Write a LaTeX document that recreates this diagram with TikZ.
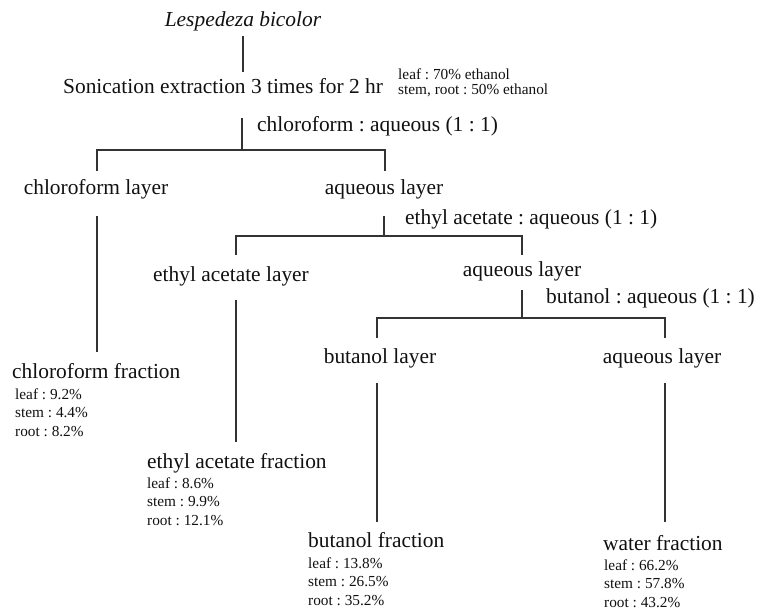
\documentclass[tikz,border=0pt]{standalone}
\usepackage{fontspec}
\setmainfont{Liberation Serif}
\frenchspacing
\definecolor{ink}{HTML}{111111}
\definecolor{rulegray}{HTML}{333333}
\newcommand{\bigtx}[1]{{\fontsize{21.4pt}{24pt}\selectfont #1}}
\newcommand{\smalltx}[1]{{\fontsize{15.3pt}{18pt}\selectfont #1}}
\tikzset{
  lbl/.style={inner sep=0pt, text=ink, text height=14.7pt, text depth=4.7pt, anchor=base},
  lblw/.style={lbl, anchor=base west},
  note/.style={inner sep=0pt, text=ink, text height=10.6pt, text depth=3.3pt, anchor=base west},
  link/.style={draw=rulegray, line width=1.2pt}
}
\begin{document}
\begin{tikzpicture}[x=1pt,y=-1pt]
\useasboundingbox[fill=white] (0,0) rectangle (758,613);

% ---- header ----
\node[lbl]  (title) at (243,26) {\bigtx{\itshape Lespedeza bicolor}};
\node[lblw] (sonic) at (63,93)  {\bigtx{Sonication extraction 3 times for 2 hr}};
\node[note] (solv1) at (398,79) {\smalltx{leaf : 70\% ethanol}};
\node[note] (solv2) at (398,94.5) {\smalltx{stem, root : 50\% ethanol}};

% ---- first partition ----
\node[lblw] (ratio1) at (257,131) {\bigtx{chloroform : aqueous (1 : 1)}};
\coordinate (s1) at (242,150);
\node[lbl] (chl) at (96,194.5)  {\bigtx{chloroform layer}};
\node[lbl] (aq1) at (384,194.5) {\bigtx{aqueous layer}};

% ---- second partition ----
\node[lblw] (ratio2) at (405,224) {\bigtx{ethyl acetate : aqueous (1 : 1)}};
\coordinate (s2) at (384,236);
\node[lbl] (eal) at (231,281) {\bigtx{ethyl acetate layer}};
\node[lbl] (aq2) at (522,276) {\bigtx{aqueous layer}};

% ---- third partition ----
\node[lblw] (ratio3) at (546,303.5) {\bigtx{butanol : aqueous (1 : 1)}};
\coordinate (s3) at (522,318);
\node[lbl] (bl)  at (380,363) {\bigtx{butanol layer}};
\node[lbl] (aq3) at (662,363) {\bigtx{aqueous layer}};

% ---- fractions and yields ----
\node[lblw] (chlf) at (12,378) {\bigtx{chloroform fraction}};
\node[note] (chlf1) at (15,399) {\smalltx{leaf : 9.2\%}};
\node[note] (chlf2) at (15,417.5) {\smalltx{stem : 4.4\%}};
\node[note] (chlf3) at (15,436) {\smalltx{root : 8.2\%}};

\node[lblw] (eaf) at (147,468) {\bigtx{ethyl acetate fraction}};
\node[note] (eaf1) at (147,488) {\smalltx{leaf : 8.6\%}};
\node[note] (eaf2) at (147,506.5) {\smalltx{stem : 9.9\%}};
\node[note] (eaf3) at (147,525) {\smalltx{root : 12.1\%}};

\node[lblw] (bf) at (308,547.5) {\bigtx{butanol fraction}};
\node[note] (bf1) at (308,568) {\smalltx{leaf : 13.8\%}};
\node[note] (bf2) at (308,586.5) {\smalltx{stem : 26.5\%}};
\node[note] (bf3) at (308,605) {\smalltx{root : 35.2\%}};

\node[lblw] (wf) at (603,550) {\bigtx{water fraction}};
\node[note] (wf1) at (604,570) {\smalltx{leaf : 66.2\%}};
\node[note] (wf2) at (604,588.5) {\smalltx{stem : 57.8\%}};
\node[note] (wf3) at (604,607) {\smalltx{root : 43.2\%}};

% ---- connectors ----
\draw[link, shorten <=5.3pt, shorten >=6.3pt] (title.south) -- (title.south |- sonic.north);
\draw[link, shorten <=20.3pt] (s1 |- sonic.south) -- (s1);
\draw[link, shorten >=8.8pt] (s1) -| ([xshift=1pt]chl.north);
\draw[link, shorten >=8.8pt] (s1) -| ([xshift=1pt]aq1.north);
\draw[link, shorten <=16.8pt, shorten >=11.3pt] ([xshift=1pt]chl.south) -- ([xshift=1pt]chl.south |- chlf.north);

\draw[link, shorten <=16.8pt] (aq1.south) -- (s2);
\draw[link, shorten >=11.3pt] (s2) -| ([xshift=5pt]eal.north);
\draw[link, shorten >=6.3pt]  (s2) -| (aq2.north);
\draw[link, shorten <=14.3pt, shorten >=11.3pt] ([xshift=5pt]eal.south) -- ([xshift=5pt]eal.south |- eaf.north);

\draw[link, shorten <=9.3pt] (aq2.south) -- (s3);
\draw[link, shorten >=10.3pt] (s3) -| ([xshift=-3pt]bl.north);
\draw[link, shorten >=10.3pt] (s3) -| ([xshift=3pt]aq3.north);
\draw[link, shorten <=15.3pt, shorten >=10.8pt] ([xshift=-3pt]bl.south) -- ([xshift=-3pt]bl.south |- bf.north);
\draw[link, shorten <=15.3pt, shorten >=13.3pt] ([xshift=3pt]aq3.south) -- ([xshift=3pt]aq3.south |- wf.north);
\end{tikzpicture}
\end{document}
